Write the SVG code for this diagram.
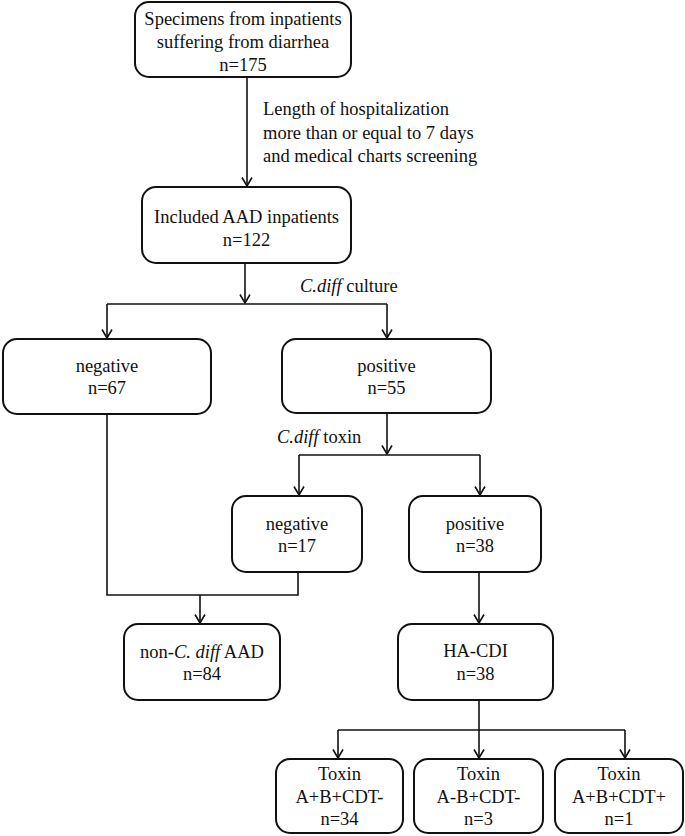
<svg xmlns="http://www.w3.org/2000/svg" width="685" height="836" viewBox="0 0 685 836">
<style>
.box{fill:#fff;stroke:#111;stroke-width:2}
.t{font-family:"Liberation Serif","Times New Roman",serif;font-size:18.5px;fill:#111;text-anchor:middle}
.l{font-family:"Liberation Serif","Times New Roman",serif;font-size:18.5px;fill:#111}
.i{font-style:italic}
.c{fill:none;stroke:#111;stroke-width:1.6}
</style>
<defs>
<marker id="ah" markerUnits="userSpaceOnUse" viewBox="0 0 10 12" refX="9.5" refY="6" markerWidth="10" markerHeight="12" orient="auto">
<path d="M1,1 L9.5,6 L1,11" fill="none" stroke="#111" stroke-width="1.6"/>
</marker>
</defs>
<rect width="685" height="836" fill="#fff"/>
<g id="connectors">
<line class="c" x1="247" y1="77" x2="247" y2="186" marker-end="url(#ah)"/>
<line class="c" x1="245" y1="263" x2="245" y2="303" marker-end="url(#ah)"/>
<polyline class="c" points="107,304 387,304"/>
<line class="c" x1="107" y1="304" x2="107" y2="338" marker-end="url(#ah)"/>
<line class="c" x1="387" y1="304" x2="387" y2="338" marker-end="url(#ah)"/>
<line class="c" x1="387" y1="413" x2="387" y2="454" marker-end="url(#ah)"/>
<polyline class="c" points="299,455 480,455"/>
<line class="c" x1="299" y1="455" x2="299" y2="495" marker-end="url(#ah)"/>
<line class="c" x1="480" y1="455" x2="480" y2="495" marker-end="url(#ah)"/>
<polyline class="c" points="107,414 107,595 298,595 298,572"/>
<line class="c" x1="200" y1="595" x2="200" y2="623" marker-end="url(#ah)"/>
<line class="c" x1="479" y1="572" x2="479" y2="623" marker-end="url(#ah)"/>
<line class="c" x1="479" y1="700" x2="479" y2="758" marker-end="url(#ah)"/>
<polyline class="c" points="338,730 625,730"/>
<line class="c" x1="338" y1="730" x2="338" y2="758" marker-end="url(#ah)"/>
<line class="c" x1="625" y1="730" x2="625" y2="758" marker-end="url(#ah)"/>
<text class="l" x="263" y="115">Length of hospitalization</text>
<text class="l" x="263" y="139">more than or equal to 7 days</text>
<text class="l" x="263" y="162">and medical charts screening</text>
<text class="l" x="300" y="292"><tspan class="i">C.diff</tspan> culture</text>
<text class="l" x="277" y="443"><tspan class="i">C.diff</tspan> toxin</text>
</g>
<g id="n-specimens">
<rect class="box" x="135" y="2" width="216" height="75" rx="14"/>
<text class="t" x="243" y="25">Specimens from inpatients</text>
<text class="t" x="243" y="48">suffering from diarrhea</text>
<text class="t" x="243" y="71">n=175</text>
</g>
<g id="n-included">
<rect class="box" x="142" y="187" width="209" height="76" rx="14"/>
<text class="t" x="246.5" y="223">Included AAD inpatients</text>
<text class="t" x="246.5" y="246">n=122</text>
</g>
<g id="n-neg1">
<rect class="box" x="3" y="339" width="208" height="75" rx="14"/>
<text class="t" x="107" y="372">negative</text>
<text class="t" x="107" y="394">n=67</text>
</g>
<g id="n-pos1">
<rect class="box" x="282" y="339" width="209" height="74" rx="14"/>
<text class="t" x="386.5" y="372">positive</text>
<text class="t" x="386.5" y="394">n=55</text>
</g>
<g id="n-neg2">
<rect class="box" x="232" y="496" width="130" height="76" rx="14"/>
<text class="t" x="297" y="530">negative</text>
<text class="t" x="297" y="552">n=17</text>
</g>
<g id="n-pos2">
<rect class="box" x="409" y="496" width="132" height="76" rx="14"/>
<text class="t" x="475" y="530">positive</text>
<text class="t" x="475" y="552">n=38</text>
</g>
<g id="n-nonCdiff">
<rect class="box" x="124" y="624" width="156" height="76" rx="14"/>
<text class="t" x="202" y="658">non-<tspan class="i">C. diff</tspan> AAD</text>
<text class="t" x="202" y="680">n=84</text>
</g>
<g id="n-hacdi">
<rect class="box" x="398" y="624" width="155" height="76" rx="14"/>
<text class="t" x="475.5" y="657">HA-CDI</text>
<text class="t" x="475.5" y="680">n=38</text>
</g>
<g id="n-tox1">
<rect class="box" x="276" y="759" width="127" height="74" rx="14"/>
<text class="t" x="339.5" y="780">Toxin</text>
<text class="t" x="339.5" y="803">A+B+CDT-</text>
<text class="t" x="339.5" y="825">n=34</text>
</g>
<g id="n-tox2">
<rect class="box" x="414" y="759" width="129" height="74" rx="14"/>
<text class="t" x="478.5" y="780">Toxin</text>
<text class="t" x="478.5" y="803">A-B+CDT-</text>
<text class="t" x="478.5" y="825">n=3</text>
</g>
<g id="n-tox3">
<rect class="box" x="555" y="759" width="128" height="74" rx="14"/>
<text class="t" x="619" y="780">Toxin</text>
<text class="t" x="619" y="803">A+B+CDT+</text>
<text class="t" x="619" y="825">n=1</text>
</g>
</svg>
